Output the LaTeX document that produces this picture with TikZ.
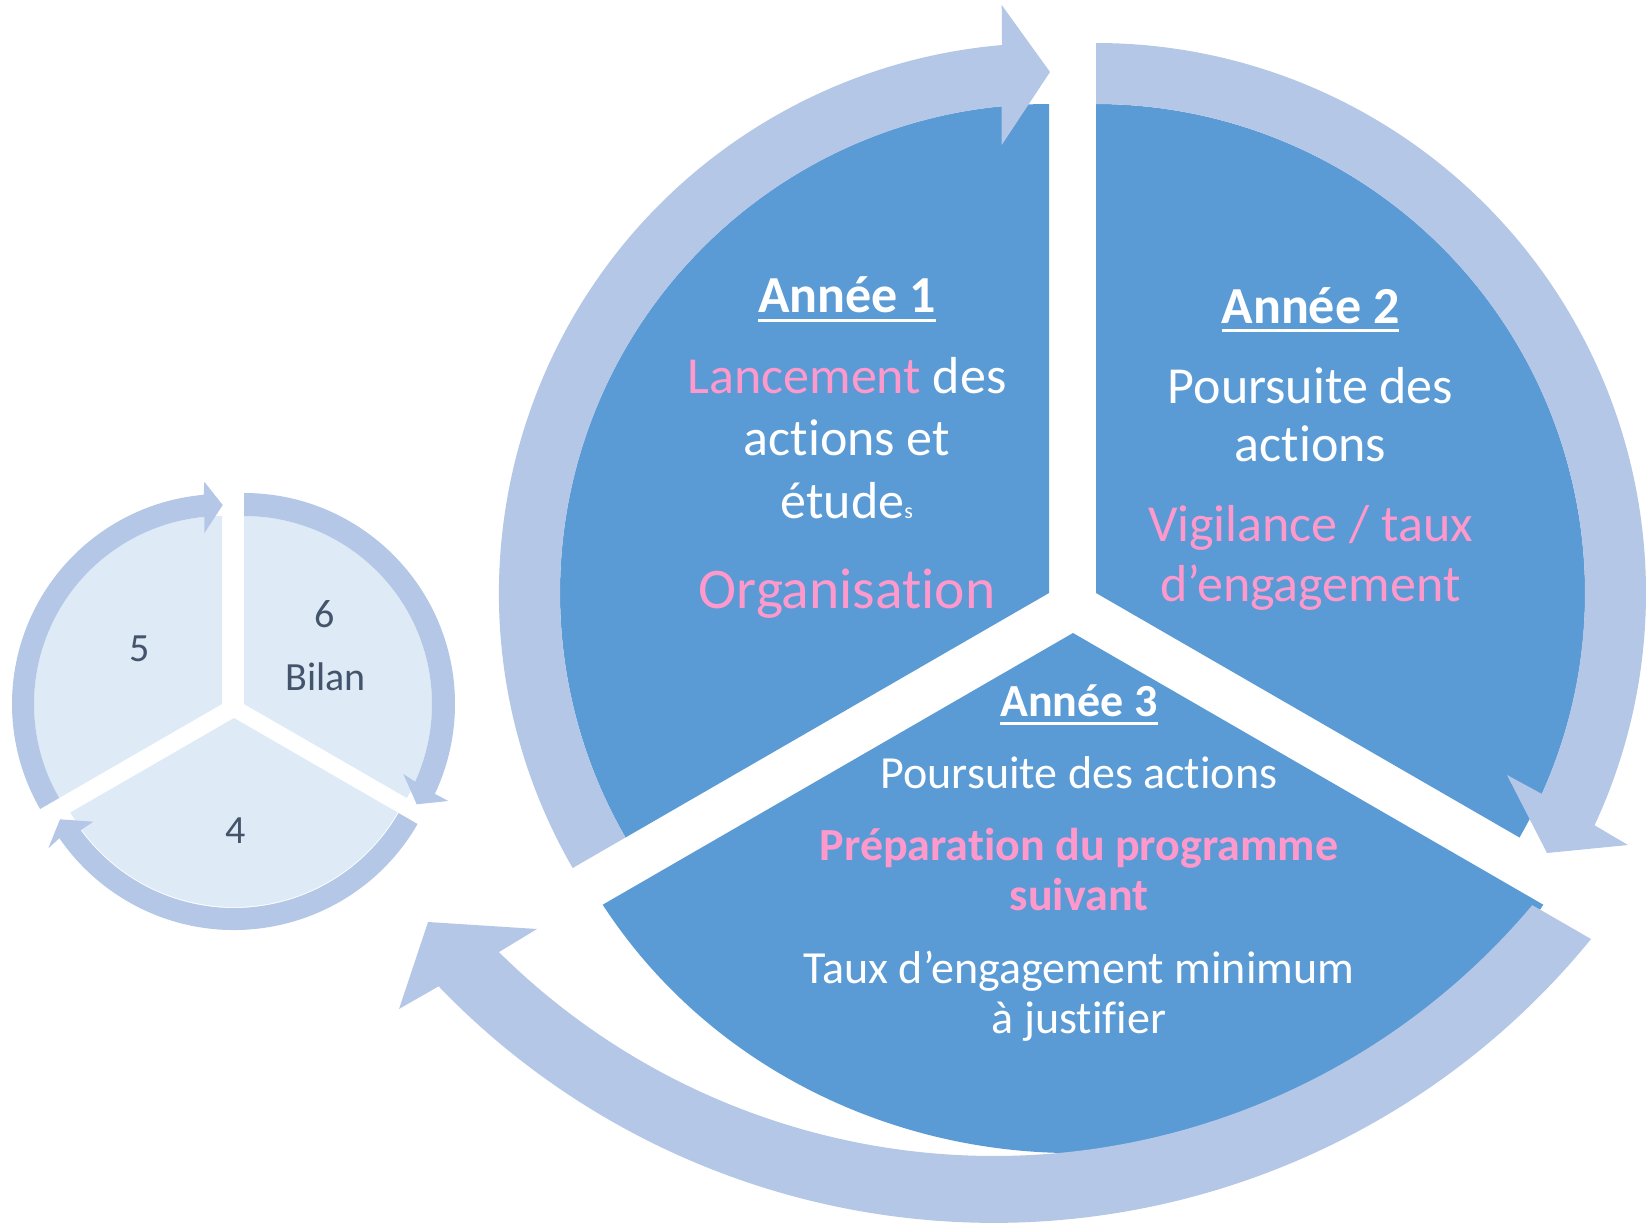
\documentclass[tikz,border=0pt]{standalone}
\usepackage{fontspec}
\setmainfont{Carlito}[Ligatures=NoCommon]
\definecolor{segblue}{RGB}{91,155,213}
\definecolor{ringblue}{RGB}{180,199,231}
\definecolor{paleblue}{RGB}{222,235,247}
\definecolor{slate}{RGB}{68,84,106}
\definecolor{rose}{RGB}{255,153,204}
\newcommand{\yearul}[1]{\setbox0\hbox{#1}\rlap{\rule[-.17em]{\wd0}{.058em}}\box0}

\begin{document}
\begin{tikzpicture}[x=1pt,y=1pt,
 seg/.style={fill=segblue},
 ringarc/.style={fill=ringblue},
 sseg/.style={fill=paleblue},
 bodytxt/.style={anchor=base,inner sep=0pt,text=white,font=\fontsize{52}{62}\selectfont},
 headtxt/.style={bodytxt,font=\bfseries\fontsize{52}{62}\selectfont},
 lowtxt/.style={anchor=base,inner sep=0pt,text=white,font=\fontsize{46}{55}\selectfont},
 lowhead/.style={lowtxt,font=\bfseries\fontsize{46}{55}\selectfont},
 digit/.style={anchor=base,inner sep=0pt,text=slate,font=\fontsize{40}{48}\selectfont}]
\useasboundingbox (0,0) rectangle (1647,-1223);
% year 1 segment + arrow
\begin{scope}[shift={(1049,-593)}]
\fill[seg] (0,0) -- (90:489) arc[start angle=90,end angle=210,radius=489] -- cycle;
\fill[ringarc] (210:489) -- (210:550) arc[start angle=210,end angle=94.9,radius=550]
 -- (-47.3,588) -- (1,521) -- (-47.3,448) -- (95.55:489)
 arc[start angle=95.55,end angle=210,radius=489] -- cycle;
\end{scope}
% year 2
\begin{scope}[shift={(1096,-593)}]
\fill[seg] (0,0) -- (-30:489) arc[start angle=-30,end angle=90,radius=489] -- cycle;
\fill[ringarc] (90:489) -- (90:550) arc[start angle=90,end angle=-24.98,radius=550]
 -- (532,-252) -- (451,-260) -- (411,-182) -- (-24.26:489)
 arc[start angle=-24.26,end angle=90,radius=489] -- cycle;
\end{scope}
% year 3
\begin{scope}[shift={(1073,-633)}]
\fill[seg] (0,0) -- (-470.3,-271.7) arc[start angle=211.5,end angle=328.5,x radius=551.6,y radius=520] -- cycle;
\end{scope}
\begin{scope}[shift={(994,-453)}]
\fill[ringarc] (538,-452) -- (597,-486) arc[start angle=-39.15,end angle=-136.15,radius=770]
 -- (-595,-556) -- (-566,-469) -- (-457,-476) -- (-134.77:703)
 arc[start angle=-134.77,end angle=-40.03,radius=703] -- cycle;
\end{scope}
% small cycle
\begin{scope}[shift={(222,-704)}]
\fill[sseg] (0,0) -- (90:188) arc[start angle=90,end angle=210,radius=188] -- cycle;
\fill[ringarc] (210:188) -- (210:210) arc[start angle=210,end angle=95,radius=210]
 -- (-17.7,222.3) -- (0.7,199) -- (-17.7,170.7) -- (95.4:188)
 arc[start angle=95.4,end angle=210,radius=188] -- cycle;
\end{scope}
\begin{scope}[shift={(244,-704)}]
\fill[sseg] (0,0) -- (-30:188) arc[start angle=-30,end angle=90,radius=188] -- cycle;
\fill[ringarc] (90:188) -- (90:211) arc[start angle=90,end angle=-25.2,radius=211]
 -- (204.3,-97) -- (172.7,-100.3) -- (159.3,-70) -- (-24.4:188)
 arc[start angle=-24.4,end angle=90,radius=188] -- cycle;
\end{scope}
\begin{scope}[shift={(234,-718)}]
\fill[sseg] (0,0) -- (210:189) arc[start angle=210,end angle=330,radius=189] -- cycle;
\fill[ringarc] (-30:190) -- (-30:212) arc[start angle=-30,end angle=-145.45,radius=212]
 -- (-185.7,-130.3) -- (-174,-101.3) -- (-140.7,-103.7) -- (-143.8:190)
 arc[start angle=-143.8,end angle=-30,radius=190] -- cycle;
\end{scope}
% texts
\node[headtxt] (y1h) at (847,-312.7) {\yearul{Année 1}};
\node[bodytxt] (y1a) at (847,-393.3) {\textcolor{rose}{Lancement} des};
\node[bodytxt] (y1b) at (847,-455) {actions et};
\node[bodytxt] (y1c) at (847,-518) {étude{\fontsize{22}{22}\selectfont s}};
\node[bodytxt,text=rose,font=\fontsize{57.5}{69}\selectfont] (y1d) at (847,-608) {Organisation};
\node[headtxt] (y2h) at (1310.5,-323.3) {\yearul{Année 2}};
\node[bodytxt] (y2a) at (1310.5,-403.3) {Poursuite des};
\node[bodytxt] (y2b) at (1310.5,-461.7) {actions};
\node[bodytxt,text=rose] (y2c) at (1310.5,-541.7) {Vigilance / taux};
\node[bodytxt,text=rose] (y2d) at (1310.5,-601.7) {d’engagement};
\node[lowhead] (y3h) at (1079,-716.7) {\yearul{Année 3}};
\node[lowtxt] (y3a) at (1079,-788.3) {Poursuite des actions};
\node[lowhead,text=rose] (y3b) at (1079,-860) {Préparation du programme};
\node[lowhead,text=rose] (y3c) at (1079,-910) {suivant};
\node[lowtxt] (y3d) at (1079,-983.3) {Taux d’engagement minimum};
\node[lowtxt] (y3e) at (1079,-1033.3) {à justifier};
\node[digit] (n5) at (139.3,-661.7) {5};
\node[digit] (n6) at (325,-627.3) {6};
\node[digit] (nb) at (325.8,-690) {Bilan};
\node[digit] (n4) at (236,-843.3) {4};
\end{tikzpicture}
\end{document}
